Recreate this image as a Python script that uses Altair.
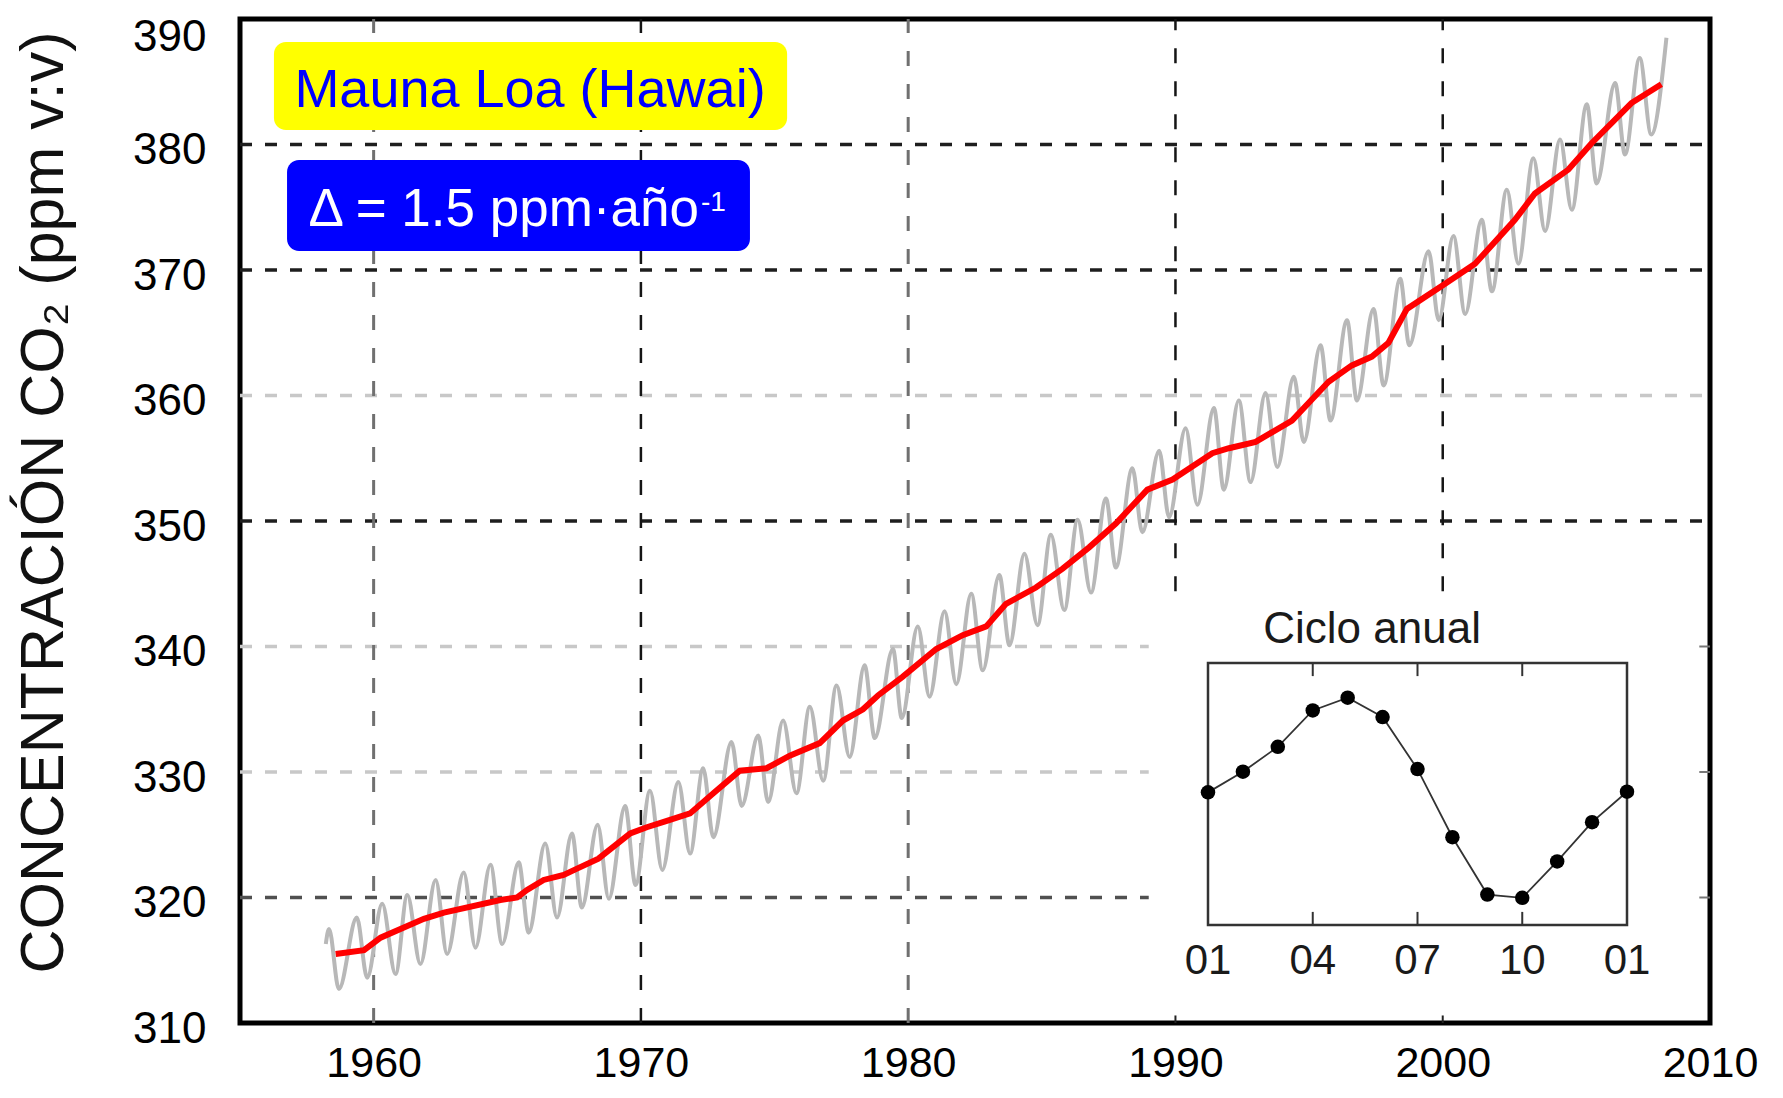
import altair as alt
import pandas as pd

# ---------------- data ----------------
# gray monthly curve: start, then alternating seasonal peaks / troughs (year, ppm)
gray_year = [1958.21, 1958.33, 1958.70, 1959.37, 1959.76, 1960.32, 1960.82, 1961.26, 1961.75,
             1962.32, 1962.75, 1963.37, 1963.81, 1964.37, 1964.81, 1965.43, 1965.80, 1966.42,
             1966.86, 1967.42, 1967.79, 1968.38, 1968.80, 1969.41, 1969.80, 1970.34, 1970.80,
             1971.40, 1971.84, 1972.33, 1972.71, 1973.39, 1973.77, 1974.39, 1974.76, 1975.32,
             1975.82, 1976.32, 1976.82, 1977.32, 1977.81, 1978.37, 1978.75, 1979.43, 1979.76,
             1980.36, 1980.80, 1981.36, 1981.80, 1982.36, 1982.79, 1983.41, 1983.79, 1984.35,
             1984.84, 1985.34, 1985.84, 1986.34, 1986.84, 1987.40, 1987.77, 1988.39, 1988.76,
             1989.39, 1989.76, 1990.38, 1990.82, 1991.44, 1991.81, 1992.37, 1992.81, 1993.37,
             1993.81, 1994.43, 1994.80, 1995.43, 1995.80, 1996.42, 1996.79, 1997.41, 1997.79,
             1998.41, 1998.75, 1999.47, 1999.85, 2000.40, 2000.84, 2001.46, 2001.84, 2002.40,
             2002.83, 2003.39, 2003.83, 2004.39, 2004.83, 2005.39, 2005.76, 2006.45, 2006.82,
             2007.37, 2007.80, 2008.37]
gray_ppm = [316.3, 317.5, 312.7, 318.4, 313.6, 319.5, 313.9, 320.2, 314.7,
            321.4, 315.5, 322.0, 316.0, 322.6, 316.3, 322.8, 317.2, 324.3,
            318.4, 325.1, 319.2, 325.8, 319.9, 327.3, 321.0, 328.5, 322.2,
            329.2, 323.5, 330.3, 324.8, 332.4, 327.3, 332.9, 327.6, 334.1,
            328.3, 335.2, 329.3, 336.9, 331.2, 338.5, 332.7, 339.8, 334.3,
            341.6, 336.0, 342.8, 337.0, 344.2, 338.1, 345.7, 340.1, 347.4,
            341.7, 348.9, 342.9, 350.1, 344.3, 351.8, 346.3, 354.2, 349.1,
            355.6, 350.3, 357.4, 351.3, 359.0, 352.5, 359.6, 353.1, 360.2,
            354.3, 361.5, 356.3, 364.0, 358.0, 366.0, 359.6, 366.9, 360.8,
            369.3, 364.0, 371.5, 366.0, 372.7, 366.5, 374.0, 368.3, 376.4,
            370.5, 378.9, 373.1, 380.4, 374.8, 383.2, 376.9, 384.9, 379.2,
            386.9, 380.8, 388.5]

# red trend curve (year, ppm)
trend_year = [1958.58, 1959.64, 1960.26, 1961.88, 1962.63, 1964.74, 1965.37, 1965.74, 1966.36,
              1967.11, 1967.61, 1968.41, 1969.60, 1970.22, 1970.97, 1971.84, 1972.71, 1973.70,
              1974.70, 1975.57, 1976.69, 1977.56, 1978.31, 1978.87, 1979.80, 1981.05, 1982.04,
              1982.92, 1983.66, 1984.78, 1985.78, 1986.77, 1987.77, 1988.95, 1989.89, 1991.38,
              1992.00, 1993.00, 1994.36, 1995.73, 1996.60, 1997.35, 1997.97, 1998.66, 2000.09,
              2001.21, 2002.70, 2003.45, 2004.70, 2005.57, 2007.06, 2008.18]
trend_ppm = [315.5, 315.8, 316.8, 318.3, 318.8, 319.8, 320.0, 320.6, 321.4,
             321.8, 322.3, 323.1, 325.1, 325.6, 326.1, 326.7, 328.3, 330.1,
             330.3, 331.3, 332.3, 334.1, 335.0, 336.1, 337.6, 339.8, 340.9,
             341.6, 343.4, 344.7, 346.2, 347.9, 349.8, 352.5, 353.3, 355.4,
             355.8, 356.3, 358.0, 361.1, 362.4, 363.1, 364.2, 366.9, 368.9,
             370.5, 374.0, 376.1, 378.0, 380.1, 383.3, 384.8]

# inset: annual cycle (month 1..13, anomaly in ppm)
cycle_month = [1, 2, 3, 4, 5, 6, 7, 8, 9, 10, 11, 12, 13]
cycle_anom = [0.05, 0.68, 1.44, 2.55, 2.94, 2.35, 0.76, -1.32, -3.07, -3.17, -2.06, -0.86, 0.07]
inset_tick_months = [1, 4, 7, 10, 13]
inset_tick_labels = ["01", "04", "07", "10", "01"]
inset_inner_ticks = [4, 7, 10]

x_ticks = [1960, 1970, 1980, 1990, 2000, 2010]
y_ticks = [310, 320, 330, 340, 350, 360, 370, 380, 390]

# grid lines
h_dark = [350, 370, 380]
h_mid = [320]
h_light_full = [360]
h_light_short = [330, 340]
v_gray = [1960, 1980]
v_black_full = [1970]
v_black_short = [1990, 2000]

title_y = "CONCENTRACIÓN CO₂ (ppm v:v)"
label_site = "Mauna Loa (Hawai)"
label_rate = "Δ = 1.5 ppm·año"
label_rate_sup = "-1"
inset_title = "Ciclo anual"

FONT = "Liberation Sans"

# ---------------- scales ----------------
XS = alt.Scale(domain=[1955, 2010], nice=False, zero=False)
YS = alt.Scale(domain=[310, 390], nice=False, zero=False)
IXS = alt.Scale(domain=[1, 13], range=[968, 1387], nice=False, zero=False)
IYS = alt.Scale(domain=[-4, 4], range=[906, 644], nice=False, zero=False)

X0, X1 = 1955, 2010
Y0, Y1 = 310, 390
SHORT_X_END = 1989.0
SHORT_Y_START = 344.4


def hlines(vals, x_end, color, width):
    df = pd.DataFrame({"ppm": vals, "x0": [X0] * len(vals), "x1": [x_end] * len(vals)})
    return alt.Chart(df).mark_rule(color=color, strokeWidth=width, strokeDash=[12, 13]).encode(
        x=alt.X("x0:Q", scale=XS, axis=None), x2="x1:Q",
        y=alt.Y("ppm:Q", scale=YS, axis=None))


def vlines(vals, y_start, color, width):
    df = pd.DataFrame({"year": vals, "y0": [y_start] * len(vals), "y1": [Y1] * len(vals)})
    return alt.Chart(df).mark_rule(color=color, strokeWidth=width, strokeDash=[15, 18]).encode(
        x=alt.X("year:Q", scale=XS, axis=None),
        y=alt.Y("y0:Q", scale=YS, axis=None), y2="y1:Q")


grid = [
    hlines(h_light_full, X1, "#c8c8c8", 3.5),
    hlines(h_light_short, SHORT_X_END, "#c8c8c8", 3.5),
    hlines(h_mid, SHORT_X_END, "#505050", 3.5),
    hlines(h_dark, X1, "#1e1e1e", 3.5),
    vlines(v_gray, Y0, "#707070", 3),
    vlines(v_black_full, Y0, "#151515", 2.5),
    vlines(v_black_short, SHORT_Y_START, "#151515", 2.5),
]

# small frame ticks
bt = pd.DataFrame({"year": v_black_short, "y0": [Y0] * 2, "y1": [310.6] * 2})
frame_ticks_b = alt.Chart(bt).mark_rule(color="#222", strokeWidth=2).encode(
    x=alt.X("year:Q", scale=XS, axis=None), y=alt.Y("y0:Q", scale=YS, axis=None), y2="y1:Q")
rt = pd.DataFrame({"ppm": [320, 330, 340], "x0": [2009.6] * 3, "x1": [X1] * 3})
frame_ticks_r = alt.Chart(rt).mark_rule(color="#777", strokeWidth=2).encode(
    x=alt.X("x0:Q", scale=XS, axis=None), x2="x1:Q", y=alt.Y("ppm:Q", scale=YS, axis=None))

gray_df = pd.DataFrame({"year": gray_year, "ppm": gray_ppm})
gray_line = alt.Chart(gray_df).mark_line(color="#b8b8b8", strokeWidth=4, interpolate="monotone").encode(
    x=alt.X("year:Q", scale=XS,
            axis=alt.Axis(values=x_ticks, format="d", labelFontSize=43, labelFont=FONT,
                          labelColor="black", labelPadding=19, ticks=False, domain=False,
                          grid=False, title=None, labelFlush=False, orient="bottom")),
    y=alt.Y("ppm:Q", scale=YS,
            axis=alt.Axis(values=y_ticks, format="d", labelFontSize=44, labelFont=FONT,
                          labelColor="black", labelPadding=34, ticks=False, domain=False,
                          grid=False, labelFlush=False, labelBaseline="middle", orient="left",
                          labelOffset=alt.condition("datum.value == 390", alt.value(18), alt.value(6)),
                          title=title_y, titleFont=FONT, titleFontSize=61,
                          titleFontWeight="normal", titleColor="#111111",
                          titleAngle=270, titleX=-196, titleY=483,
                          titleAlign="center", titleBaseline="middle")))

trend_df = pd.DataFrame({"year": trend_year, "ppm": trend_ppm})
red_line = alt.Chart(trend_df).mark_line(color="#ff0000", strokeWidth=6).encode(
    x=alt.X("year:Q", scale=XS, axis=None), y=alt.Y("ppm:Q", scale=YS, axis=None))

# label boxes (data coordinates)
boxes = pd.DataFrame({
    "x0": [1956.27, 1956.76], "x1": [1975.47, 1974.08],
    "y0": [381.16, 371.51], "y1": [388.17, 378.76],
    "fill": ["#ffff00", "#0000ff"]})
box_marks = alt.Chart(boxes).mark_rect(cornerRadius=12).encode(
    x=alt.X("x0:Q", scale=XS, axis=None), x2="x1:Q",
    y=alt.Y("y0:Q", scale=YS, axis=None), y2="y1:Q",
    fill=alt.Fill("fill:N", scale=None))

t_site = alt.Chart(pd.DataFrame({"x": [1965.85], "y": [384.3], "t": [label_site]})).mark_text(
    font=FONT, fontSize=54, color="#0000ff", align="center", baseline="middle").encode(
    x=alt.X("x:Q", scale=XS, axis=None), y=alt.Y("y:Q", scale=YS, axis=None), text="t:N")
t_rate = alt.Chart(pd.DataFrame({"x": [1972.17], "y": [374.75], "t": [label_rate]})).mark_text(
    font=FONT, fontSize=53, color="white", align="right", baseline="middle").encode(
    x=alt.X("x:Q", scale=XS, axis=None), y=alt.Y("y:Q", scale=YS, axis=None), text="t:N")
t_sup = alt.Chart(pd.DataFrame({"x": [1972.25], "y": [375.35], "t": [label_rate_sup]})).mark_text(
    font=FONT, fontSize=28, color="white", align="left", baseline="middle").encode(
    x=alt.X("x:Q", scale=XS, axis=None), y=alt.Y("y:Q", scale=YS, axis=None), text="t:N")

# ---------------- inset ----------------
iframe = alt.Chart(pd.DataFrame({"m0": [1], "m1": [13], "a0": [-4], "a1": [4]})).mark_rect(
    fill="white", stroke="#333333", strokeWidth=2.5).encode(
    x=alt.X("m0:Q", scale=IXS, axis=None), x2="m1:Q",
    y=alt.Y("a0:Q", scale=IYS, axis=None), y2="a1:Q")

itk = pd.DataFrame({"m": inset_inner_ticks * 2,
                    "a0": [-4] * 3 + [4] * 3, "a1": [-3.6] * 3 + [3.6] * 3})
iticks = alt.Chart(itk).mark_rule(color="#333333", strokeWidth=2).encode(
    x=alt.X("m:Q", scale=IXS, axis=None),
    y=alt.Y("a0:Q", scale=IYS, axis=None), y2="a1:Q")

cyc = pd.DataFrame({"m": cycle_month, "a": cycle_anom})
iline = alt.Chart(cyc).mark_line(color="#333333", strokeWidth=1.8).encode(
    x=alt.X("m:Q", scale=IXS, axis=None), y=alt.Y("a:Q", scale=IYS, axis=None))
ipts = alt.Chart(cyc).mark_point(filled=True, color="black", size=210, opacity=1).encode(
    x=alt.X("m:Q", scale=IXS, axis=None), y=alt.Y("a:Q", scale=IYS, axis=None))

ilab = pd.DataFrame({"m": inset_tick_months, "a": [-5.1] * 5, "t": inset_tick_labels})
ilabels = alt.Chart(ilab).mark_text(font=FONT, fontSize=42, color="#1a1a1a",
                                    align="center", baseline="middle").encode(
    x=alt.X("m:Q", scale=IXS, axis=None), y=alt.Y("a:Q", scale=IYS, axis=None), text="t:N")

ititle = alt.Chart(pd.DataFrame({"m": [5.7], "a": [5.0], "t": [inset_title]})).mark_text(
    font=FONT, fontSize=44, color="#1a1a1a", align="center", baseline="middle").encode(
    x=alt.X("m:Q", scale=IXS, axis=None), y=alt.Y("a:Q", scale=IYS, axis=None), text="t:N")

layers = [*grid, frame_ticks_b, frame_ticks_r, gray_line, red_line,
          box_marks, t_site, t_rate, t_sup,
          iframe, iticks, iline, ipts, ilabels, ititle]

chart = alt.layer(*layers).resolve_scale(x="independent", y="independent").properties(
    width=1470, height=1004,
    padding={"left": 232, "top": 11, "right": 56, "bottom": 67},
    autosize=alt.AutoSizeParams(type="none"),
    background="white",
).configure_view(stroke="black", strokeWidth=5)

chart.save("out.html", embed_options={"renderer": "svg", "actions": False})
